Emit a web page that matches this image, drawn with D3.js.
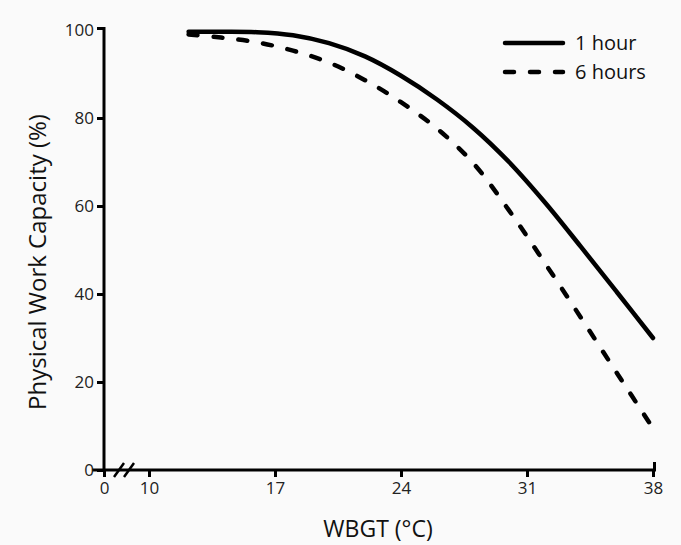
<!DOCTYPE html>
<html><head><meta charset="utf-8">
<script src="https://cdn.jsdelivr.net/npm/d3@7"></script>
<style>body{margin:0;background:#fafafa;} svg{display:block;}</style>
</head><body>
<script>
const wbgt = [12.2, 14, 16, 18, 20, 22, 24, 26, 28, 30, 32, 34, 36, 38];
const oneHour = [99.6, 99.6, 99.5, 98.8, 97, 94, 89.6, 84.2, 77.8, 70, 60.8, 50.7, 40.4, 30];
const sixHours = [99, 98.3, 97.2, 95.3, 92.6, 88.6, 83.6, 77.6, 69.8, 59, 47, 34.6, 22, 9.5];
const xTicks = [0, 10, 17, 24, 31, 38];
const yTicks = [0, 20, 40, 60, 80, 100];
const seriesNames = ["1 hour", "6 hours"];

const W = 681, H = 545;
const FONT = "'Open Sans', 'Lato', sans-serif";
const svg = d3.select("body").append("svg").attr("width", W).attr("height", H)
  .style("font-family", FONT);
svg.append("rect").attr("width", W).attr("height", H).attr("fill", "#fafafa");

const x = d3.scaleLinear().domain([0, 10, 38]).range([104, 149, 653]);
const y = d3.scaleLinear().domain([0, 100]).range([470, 30]);

const g = svg.append("g");
const xAxis = g.append("g").attr("transform", "translate(0,470)")
  .call(d3.axisBottom(x).tickValues(xTicks).tickSize(7).tickPadding(5).tickSizeOuter(0));
const yAxis = g.append("g").attr("transform", "translate(104,0)")
  .call(d3.axisLeft(y).tickValues(yTicks).tickSize(7).tickPadding(3).tickSizeOuter(0));
[xAxis, yAxis].forEach(a => {
  a.select(".domain").attr("stroke", "#000").attr("stroke-width", 3);
  a.selectAll(".tick line").attr("stroke", "#000").attr("stroke-width", 3);
  a.selectAll(".tick text").attr("fill", "#222").style("font-size", "17px").style("font-family", FONT);
});
xAxis.select(".domain").attr("d", `M${104-12},0H${653+1.5}V-8`);
yAxis.select(".domain").attr("d", `M0,470V28.5H-7`);
yAxis.selectAll(".tick").filter(d => d === 100).select("line").remove();
[119, 129].forEach(cx => {
  g.append("line").attr("x1", cx - 5).attr("y1", 477).attr("x2", cx + 5).attr("y2", 463)
    .attr("stroke", "#000").attr("stroke-width", 2.5);
});

const line = d3.line().x(d => x(d[0])).y(d => y(d[1])).curve(d3.curveCatmullRom.alpha(0.5));
g.append("path").datum(wbgt.map((w, i) => [w, oneHour[i]]))
  .attr("d", line).attr("fill", "none").attr("stroke", "#000").attr("stroke-width", 4.5)
  .attr("stroke-linecap", "round");
g.append("path").datum(wbgt.map((w, i) => [w, sixHours[i]]))
  .attr("d", line).attr("fill", "none").attr("stroke", "#000").attr("stroke-width", 4.5)
  .attr("stroke-linecap", "round").attr("stroke-dasharray", "9,16");

const leg = svg.append("g");
[0, 1].forEach(i => {
  const ly = 43 + i * 29;
  leg.append("line").attr("x1", 505).attr("x2", 563).attr("y1", ly).attr("y2", ly)
    .attr("stroke", "#000").attr("stroke-width", 4.5).attr("stroke-linecap", "round")
    .attr("stroke-dasharray", i ? "9,16" : null);
  leg.append("text").attr("x", 575).attr("y", ly + 7).text(seriesNames[i])
    .style("font-size", "20px").attr("fill", "#111");
});

svg.append("text").attr("x", 378).attr("y", 537).attr("text-anchor", "middle")
  .style("font-size", "23px").attr("fill", "#111").text("WBGT (°C)");
svg.append("text").attr("transform", "translate(46,262) rotate(-90)").attr("text-anchor", "middle")
  .style("font-size", "24px").attr("fill", "#111").text("Physical Work Capacity (%)");
</script>
</body></html>
